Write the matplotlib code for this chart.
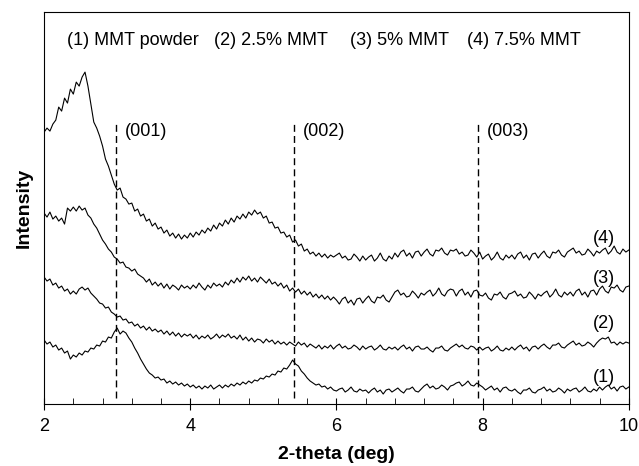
import numpy as np
import matplotlib
matplotlib.use("Agg")
import matplotlib.pyplot as plt
from matplotlib.ticker import MultipleLocator

plt.rcParams['font.family'] = ['Liberation Sans', 'DejaVu Sans']

# offset intensities (arb. units), one row = 0.4 deg
mmt_75 = [272, 276, 273, 280, 284, 297, 293, 306, 301, 315,
          310, 322, 318, 327, 332, 318, 300, 282, 276, 268,
          258, 245, 238, 229, 220, 214, 216, 207, 205, 200,
          201, 193, 195, 188, 190, 183, 185, 178, 181, 175,
          177, 171, 174, 168, 171, 166, 170, 165, 169, 166,
          171, 167, 172, 169, 174, 171, 176, 173, 179, 175,
          181, 178, 184, 180, 186, 182, 188, 185, 190, 186,
          192, 189, 194, 190, 192, 186, 188, 181, 182, 176,
          177, 171, 172, 167, 169, 162, 164, 158, 160, 153,
          155, 150, 152, 148, 151, 147, 150, 146, 149, 147,
          149, 151, 146, 148, 144, 145, 150, 147, 143, 148,
          144, 147, 149, 143, 146, 151, 145, 143, 148, 145,
          151, 147, 152, 154, 148, 151, 146, 152, 153, 148,
          152, 155, 150, 148, 154, 153, 156, 151, 149, 154,
          153, 155, 150, 152, 148, 149, 154, 151, 147, 152,
          145, 148, 150, 144, 147, 152, 146, 144, 149, 146,
          149, 145, 150, 152, 146, 149, 144, 150, 151, 146,
          150, 153, 148, 146, 152, 151, 154, 149, 147, 152,
          154, 156, 151, 153, 149, 150, 155, 152, 148, 153,
          151, 154, 156, 150, 153, 158, 152, 150, 155, 152,
          154]

mmt_5 = [191, 187, 192, 185, 188, 183, 186, 180, 196, 193,
         197, 193, 198, 194, 196, 189, 186, 180, 176, 170,
         164, 160, 155, 152, 147, 145, 141, 142, 137, 136,
         133, 135, 130, 128, 126, 122, 125, 119, 122, 118,
         121, 116, 120, 115, 119, 117, 114, 119, 116, 118,
         115, 119, 116, 121, 117, 114, 119, 116, 121, 118,
         120, 117, 122, 119, 124, 121, 126, 122, 127, 124,
         128, 123, 126, 122, 127, 124, 121, 125, 120, 122,
         118, 121, 116, 119, 113, 116, 112, 115, 110, 113,
         109, 112, 107, 110, 106, 109, 105, 108, 104, 107,
         104, 100, 105, 107, 101, 104, 99, 105, 106, 101,
         105, 108, 103, 101, 107, 106, 109, 104, 102, 107,
         112, 114, 109, 111, 107, 108, 113, 110, 106, 111,
         109, 112, 114, 108, 111, 116, 110, 108, 113, 115,
         114, 108, 113, 115, 109, 112, 107, 113, 114, 109,
         108, 111, 106, 104, 110, 109, 112, 107, 105, 110,
         111, 113, 108, 110, 106, 107, 112, 109, 105, 110,
         108, 111, 113, 107, 110, 115, 109, 107, 112, 109,
         112, 108, 113, 115, 109, 112, 107, 113, 114, 109,
         115, 118, 113, 111, 117, 116, 119, 114, 112, 117,
         118]

mmt_25 = [127, 123, 125, 119, 121, 116, 118, 113, 115, 110,
          113, 110, 115, 117, 114, 116, 111, 108, 105, 101,
          100, 96, 97, 92, 90, 87, 88, 84, 85, 81,
          82, 78, 80, 76, 78, 74, 77, 73, 75, 72,
          74, 70, 73, 69, 72, 68, 71, 67, 70, 68,
          70, 66, 69, 65, 68, 66, 69, 65, 67, 70,
          66, 69, 67, 70, 66, 68, 65, 69, 64, 67,
          63, 66, 62, 65, 64, 61, 65, 62, 64, 60,
          63, 60, 62, 59, 62, 60, 58, 62, 59, 61,
          57, 60, 58, 56, 59, 55, 58, 56, 59, 55,
          58, 60, 56, 58, 55, 56, 59, 57, 54, 58,
          55, 57, 58, 54, 56, 59, 55, 54, 57, 55,
          57, 54, 57, 59, 55, 57, 53, 57, 58, 55,
          55, 57, 54, 52, 56, 56, 58, 54, 53, 56,
          58, 60, 57, 59, 56, 55, 58, 57, 54, 57,
          54, 56, 57, 53, 55, 58, 54, 53, 56, 54,
          57, 54, 57, 59, 55, 57, 53, 57, 58, 55,
          58, 60, 57, 55, 59, 59, 61, 57, 56, 59,
          61, 63, 59, 61, 58, 59, 62, 60, 57, 61,
          64, 66, 65, 67, 61, 62, 59, 62, 60, 62,
          61]

mmt_powder = [64, 60, 62, 57, 59, 54, 56, 51, 53, 45,
              49, 47, 51, 49, 53, 52, 56, 55, 59, 58,
              63, 62, 67, 66, 72, 76, 70, 73, 71, 66,
              62, 56, 51, 45, 40, 35, 31, 29, 26, 27,
              24, 25, 21, 23, 20, 22, 19, 21, 18, 20,
              17, 19, 16, 18, 15, 18, 16, 19, 15, 17,
              19, 16, 19, 17, 20, 18, 21, 19, 22, 20,
              23, 21, 24, 23, 26, 25, 28, 27, 30, 29,
              33, 32, 36, 35, 39, 44, 40, 38, 33, 30,
              26, 23, 21, 19, 20, 17, 18, 15, 17, 14,
              13, 15, 16, 12, 14, 17, 13, 12, 15, 13,
              14, 11, 14, 16, 12, 14, 10, 14, 15, 12,
              14, 16, 13, 11, 15, 15, 17, 13, 12, 15,
              18, 20, 16, 18, 15, 16, 19, 17, 14, 18,
              19, 21, 22, 18, 20, 23, 19, 18, 21, 19,
              17, 14, 16, 18, 14, 16, 12, 16, 17, 14,
              13, 15, 12, 10, 14, 14, 16, 12, 11, 14,
              15, 17, 13, 15, 12, 13, 16, 14, 11, 15,
              13, 15, 16, 12, 14, 17, 13, 12, 15, 13,
              17, 14, 17, 19, 15, 17, 13, 17, 18, 15,
              17]

curves = [mmt_powder, mmt_25, mmt_5, mmt_75]
curve_tags = ['(1)', '(2)', '(3)', '(4)']
tag_y = [27, 81, 126, 166]

peak_pos = [2.98, 5.42, 7.94]
peak_names = ['(001)', '(002)', '(003)']

legend_items = ['(1) MMT powder', '(2) 2.5% MMT', '(3) 5% MMT', '(4) 7.5% MMT']
legend_x = [2.315, 4.326, 6.186, 7.787]

fig = plt.figure(figsize=(6.39, 4.66), dpi=100)
ax = fig.add_axes([0.069, 0.133, 0.915, 0.841])

for y in curves:
    x = np.linspace(2, 10, len(y))
    ax.plot(x, y, color='black', lw=0.8)

for xp, name in zip(peak_pos, peak_names):
    ax.plot([xp, xp], [6, 282], color='black', lw=1, ls=(0, (5, 3)))
    ax.text(xp + 0.12, 273, name, fontsize=13, va='center', ha='left')

for tag, ty in zip(curve_tags, tag_y):
    ax.text(9.66, ty, tag, fontsize=13, va='center', ha='center')

for lx, item in zip(legend_x, legend_items):
    ax.text(lx, 364, item, fontsize=13, va='center', ha='left')

ax.set_xlim(2, 10)
ax.set_ylim(0, 392)
ax.set_yticks([])
ax.xaxis.set_major_locator(MultipleLocator(2))
ax.xaxis.set_minor_locator(MultipleLocator(0.4))
ax.tick_params(axis='x', which='major', direction='inout', length=8, labelsize=13, pad=6)
ax.tick_params(axis='x', which='minor', direction='in', length=4)
ax.set_xlabel('2-theta (deg)', fontsize=14, fontweight='bold', labelpad=8)
ax.set_ylabel('Intensity', fontsize=14, fontweight='bold', labelpad=8)

fig.savefig('out.png', dpi=100)
